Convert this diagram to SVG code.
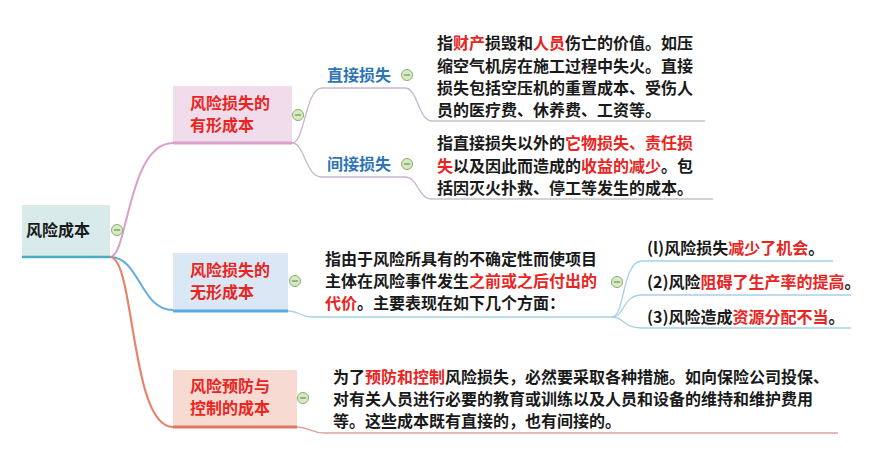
<svg xmlns="http://www.w3.org/2000/svg" width="874" height="452" viewBox="0 0 874 452">
<style>
text{font-family:"Noto Sans CJK SC","Liberation Sans",sans-serif;font-size:16px;font-weight:bold;fill:#1a1a1a}
.r{fill:#e8251f}
.b{fill:#2f75b5}
.lbl{fill:#e8251f}
.c{fill:none;stroke-width:1.3}
.tog circle{fill:#d6eac4;stroke:#8aab6e;stroke-width:1}
.tog line{stroke:#6e8f55;stroke-width:1.2}
</style>
<defs>
<g id="tg" class="tog"><circle r="5.5"/><line x1="-3" y1="0" x2="3" y2="0"/></g>
</defs>
<rect width="874" height="452" fill="#fff"/>
<g id="connectors">
<path d="M110,257 C128,257 128,143 173,143" fill="none" stroke="#d9a0cb" stroke-width="2"/>
<path d="M110,257 C140,257 140,310 173,310" fill="none" stroke="#62b0de" stroke-width="2"/>
<path d="M110,257 C135,257 130,427 173,427" fill="none" stroke="#e8826a" stroke-width="2.2"/>
<path class="c" stroke="#c9b6cf" d="M292,143 C305,143 305,88 322,88 L405,88 C418,88 418,121 432,121"/>
<path class="c" stroke="#c9b6cf" d="M292,143 C305,143 305,177 322,177 L405,177 C418,177 418,199 432,199"/>
<path class="c" stroke="#c4c4c4" d="M432,121 L705,121"/>
<path class="c" stroke="#c4c4c4" d="M432,199 L713,199"/>
<path class="c" stroke="#a8d0e6" d="M288,311 C300,311 300,317 312,317 L612,317"/>
<path class="c" stroke="#a8d0e6" d="M612,317 C625,317 622,261 642,261 L833,261"/>
<path class="c" stroke="#a8d0e6" d="M612,317 C625,317 622,295 642,295 L851,295"/>
<path class="c" stroke="#a8d0e6" d="M612,317 C625,317 622,328 642,328 L851,328"/>
<path class="c" stroke="#e0a0a0" d="M297,427 C310,427 310,433 325,433 L838,433"/>
</g>
<g id="root">
<rect x="22" y="205" width="88" height="52" fill="#d8eaea"/>
<line x1="22" y1="257" x2="110" y2="257" stroke="#4bacc6" stroke-width="2.5"/>
<text x="26" y="236">风险成本</text>
<use href="#tg" x="117" y="230"/>
</g>
<g id="tangible">
<rect x="173" y="86" width="119" height="57" fill="#f1dcec"/>
<line x1="173" y1="143" x2="292" y2="143" stroke="#d9a0cb" stroke-width="3"/>
<text class="lbl" x="190" y="109">风险损失的</text>
<text class="lbl" x="190" y="131">有形成本</text>
<use href="#tg" x="298" y="115"/>
</g>
<g id="direct">
<text class="b" x="327" y="81">直接损失</text>
<use href="#tg" x="407" y="75"/>
</g>
<g id="direct-desc">
<text x="437" y="49">指<tspan class="r">财产</tspan>损毁和<tspan class="r">人员</tspan>伤亡的价值。如压</text>
<text x="437" y="72">缩空气机房在施工过程中失火。直接</text>
<text x="437" y="94">损失包括空压机的重置成本、受伤人</text>
<text x="437" y="116">员的医疗费、休养费、工资等。</text>
</g>
<g id="indirect">
<text class="b" x="327" y="170">间接损失</text>
<use href="#tg" x="407" y="164"/>
</g>
<g id="indirect-desc">
<text x="437" y="149">指直接损失以外的<tspan class="r">它物损失、责任损</tspan></text>
<text x="437" y="172"><tspan class="r">失</tspan>以及因此而造成的<tspan class="r">收益的减少</tspan>。包</text>
<text x="437" y="194">括因灭火扑救、停工等发生的成本。</text>
</g>
<g id="intangible">
<rect x="173" y="253" width="115" height="58" fill="#dae8f6"/>
<line x1="173" y1="311" x2="288" y2="311" stroke="#5aa9e0" stroke-width="3"/>
<text class="lbl" x="190" y="276">风险损失的</text>
<text class="lbl" x="190" y="298">无形成本</text>
<use href="#tg" x="295" y="281"/>
</g>
<g id="intangible-desc">
<text x="325" y="265">指由于风险所具有的不确定性而使项目</text>
<text x="325" y="287">主体在风险事件发生<tspan class="r">之前或之后付出的</tspan></text>
<text x="325" y="309"><tspan class="r">代价</tspan>。主要表现在如下几个方面：</text>
<use href="#tg" x="617" y="282"/>
</g>
<g id="item1"><text x="647" y="254">(l)风险损失<tspan class="r">减少了机会</tspan>。</text></g>
<g id="item2"><text x="647" y="288">(2)风险<tspan class="r">阻碍了生产率的提高</tspan>。</text></g>
<g id="item3"><text x="647" y="323">(3)风险造成<tspan class="r">资源分配不当</tspan>。</text></g>
<g id="control">
<rect x="173" y="370" width="124" height="57" fill="#f7dad2"/>
<line x1="173" y1="427" x2="297" y2="427" stroke="#e07860" stroke-width="3"/>
<text class="lbl" x="190" y="392">风险预防与</text>
<text class="lbl" x="190" y="414">控制的成本</text>
<use href="#tg" x="303" y="398"/>
</g>
<g id="control-desc">
<text x="333" y="383">为了<tspan class="r">预防和控制</tspan>风险损失，必然要采取各种措施。如向保险公司投保、</text>
<text x="333" y="405">对有关人员进行必要的教育或训练以及人员和设备的维持和维护费用</text>
<text x="333" y="427">等。这些成本既有直接的，也有间接的。</text>
</g>
</svg>
